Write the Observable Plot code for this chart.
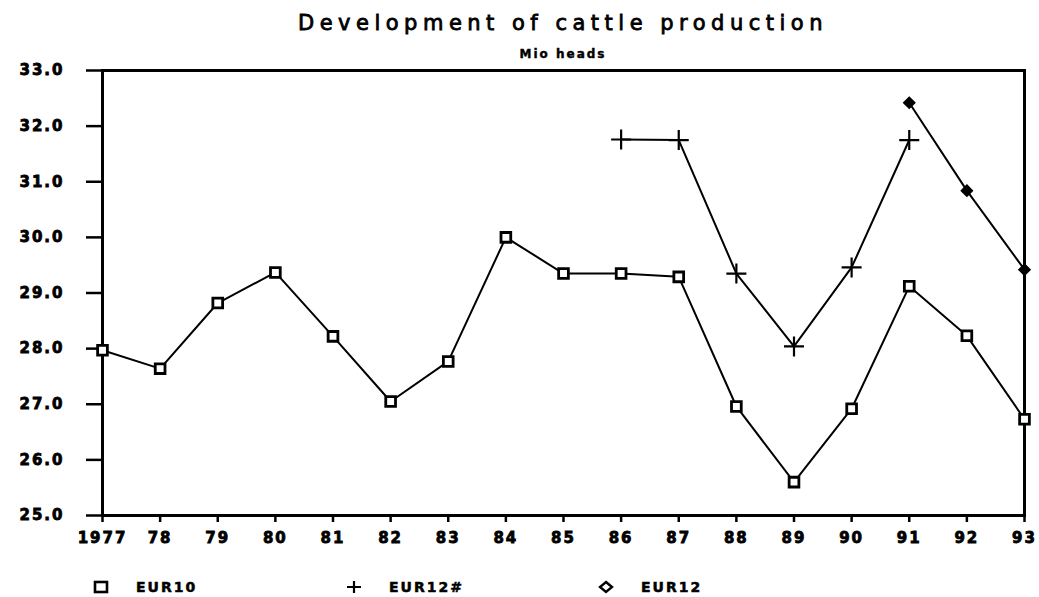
<!DOCTYPE html>
<html><head><meta charset="utf-8">
<script src="https://cdn.jsdelivr.net/npm/d3@7"></script>
<script src="https://cdn.jsdelivr.net/npm/@observablehq/plot@0.6"></script>
<style>
body{margin:0;background:#fff;width:1039px;height:597px;overflow:hidden;font-family:"DejaVu Sans",sans-serif;color:#000;position:relative}
#title{position:absolute;left:102px;width:922px;top:9px;text-align:center;font-size:21px;letter-spacing:5.5px;line-height:28px;white-space:nowrap;-webkit-text-stroke:0.8px #000;z-index:2}
#subtitle{position:absolute;left:102px;width:922px;top:46px;text-align:center;font-size:12px;font-weight:bold;letter-spacing:2px;line-height:16px;-webkit-text-stroke:0.4px #000;z-index:2}
#chart{position:absolute;left:0;top:52px;z-index:1}
#legend{position:absolute;left:0;top:576px;width:1039px;height:22px;font-size:14px;font-weight:bold;letter-spacing:2px;-webkit-text-stroke:0.5px #000}
#legend .item{position:absolute;top:0;display:flex;align-items:center;height:22px}
#legend svg{margin-right:26px}
#chart svg text{letter-spacing:2px;paint-order:stroke;stroke:#000;stroke-width:0.8px}
</style>
</head><body>
<div id="title">Development of cattle production</div>
<div id="subtitle">Mio heads</div>
<div id="chart"></div>
<div id="legend"></div>
<script>
const years = [1977,1978,1979,1980,1981,1982,1983,1984,1985,1986,1987,1988,1989,1990,1991,1992,1993];
const xLabels = ["1977","78","79","80","81","82","83","84","85","86","87","88","89","90","91","92","93"];
const eur10 = [27.97,27.64,28.82,29.37,28.22,27.05,27.77,30.0,29.35,29.35,29.29,26.96,25.60,26.92,29.12,28.23,26.73];
const eur12hYears = [1986,1987,1988,1989,1990,1991];
const eur12h = [31.76,31.75,29.35,28.04,29.46,31.75];
const eur12Years = [1991,1992,1993];
const eur12 = [32.42,30.84,29.42];
const yTicks = [25,26,27,28,29,30,31,32,33];
const seriesNames = ["EUR10","EUR12#","EUR12"];

const d10 = years.map((y,i)=>({year:y, value:eur10[i]}));
const d12h = eur12hYears.map((y,i)=>({year:y, value:eur12h[i]}));
const d12 = eur12Years.map((y,i)=>({year:y, value:eur12[i]}));
const labelOf = new Map(years.map((y,i)=>[y,xLabels[i]]));

const chart = Plot.plot({
  width: 1039,
  height: 505,
  marginTop: 18,
  marginBottom: 42,
  marginLeft: 102,
  marginRight: 15,
  style: {fontFamily: '"DejaVu Sans", sans-serif', fontSize: "15px", fontWeight: "bold", background: "transparent", color: "#000"},
  x: {domain: [1977, 1993], type: "linear"},
  y: {domain: [25, 33]},
  marks: [
    Plot.axisX({ticks: years, tickFormat: d => labelOf.get(d), tickSize: 7, tickPadding: 10, strokeWidth: 2.5, label: null, fontSize: 15, fontWeight: "bold"}),
    Plot.axisY({ticks: yTicks, tickFormat: d3.format(".1f"), tickSize: 16, tickPadding: 22, strokeWidth: 2.5, label: null, fontSize: 15, fontWeight: "bold"}),
    Plot.frame({stroke: "#000", strokeWidth: 3}),
    Plot.line(d10, {x: "year", y: "value", stroke: "#000", strokeWidth: 2}),
    Plot.line(d12h, {x: "year", y: "value", stroke: "#000", strokeWidth: 2}),
    Plot.line(d12, {x: "year", y: "value", stroke: "#000", strokeWidth: 2}),
    Plot.dot(d10, {x: "year", y: "value", symbol: "square", r: 5.5, fill: "#fff", stroke: "#000", strokeWidth: 2.8}),
    Plot.dot(d12h, {x: "year", y: "value", symbol: "plus", r: 6.5, stroke: "#000", strokeWidth: 2.2}),
    Plot.dot(d12, {x: "year", y: "value", symbol: "diamond2", r: 5, fill: "#000", stroke: "#000", strokeWidth: 1.5})
  ]
});
document.getElementById("chart").appendChild(chart);

// legend
const legend = document.getElementById("legend");
const items = [
  {name: seriesNames[0], left: 92, sym: '<rect x="3" y="6" width="12" height="10" fill="#fff" stroke="#000" stroke-width="2.6"/>'},
  {name: seriesNames[1], left: 345, sym: '<path d="M2,11H16M9,5V17" stroke="#000" stroke-width="2.2"/>'},
  {name: seriesNames[2], left: 597, sym: '<path d="M9,6L15,11L9,16L3,11Z" fill="#fff" stroke="#000" stroke-width="2.4"/>'}
];
for (const it of items) {
  const div = document.createElement("div");
  div.className = "item";
  div.style.left = it.left + "px";
  div.innerHTML = `<svg width="18" height="22" viewBox="0 0 18 22">${it.sym}</svg><span>${it.name}</span>`;
  legend.appendChild(div);
}
</script>
</body></html>
